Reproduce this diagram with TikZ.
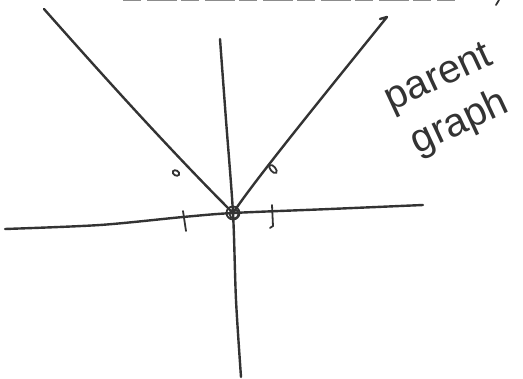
\documentclass[tikz,border=0pt]{standalone}
\usepackage{fontspec}
\setmainfont{Liberation Sans}
\begin{document}
\begin{tikzpicture}[x=1pt,y=-1pt,
  pen/.style={line width=2.4pt, draw=black!80, line cap=round, line join=round},
  thinpen/.style={line width=1.8pt, draw=black!80, line cap=round},
  hand/.style={text=black!80, align=center, font=\fontsize{40}{50}\selectfont}]
\useasboundingbox (0,0) rectangle (523,379);
% cut-off line at top
\draw[line width=2pt, black!45, dash pattern=on 18pt off 6pt on 30pt off 4pt] (123,0.5) -- (455,0.5);
\draw[thinpen] (499,0) -- (496,5);
% axes
\coordinate (o) at (233,213);
\draw[pen] plot[smooth] coordinates {(5,229) (100,225) (183,217) (233,213) (330,209) (423,205)};
\draw[pen] plot[smooth] coordinates {(220,39) (226,120) (233,213) (236,300) (241,377)};
% V graph
\draw[pen] (44,9) .. controls (120,95) and (180,160) .. (o);
\draw[pen] (o) .. controls (255,180) and (320,100) .. (387,17) -- (380,19);
% ticks
\draw[thinpen] (183,211) -- (186,231);
\draw[thinpen] (272,205) -- (273,226) -- (270,228);
% vertex circle and dots
\draw[thinpen] (o) circle[radius=6.5];
\draw[thinpen] (o) ++(1,1) circle[radius=4.5];
\draw[thinpen, rotate around={-30:(176,173)}] (176,173) ellipse[x radius=3.5, y radius=2.5];
\draw[thinpen, rotate around={40:(273,169)}] (273,169) ellipse[x radius=2.5, y radius=5];
% label
\node[hand, rotate=25] (lbl) at (450,102) {parent\\graph};
\end{tikzpicture}
\end{document}
